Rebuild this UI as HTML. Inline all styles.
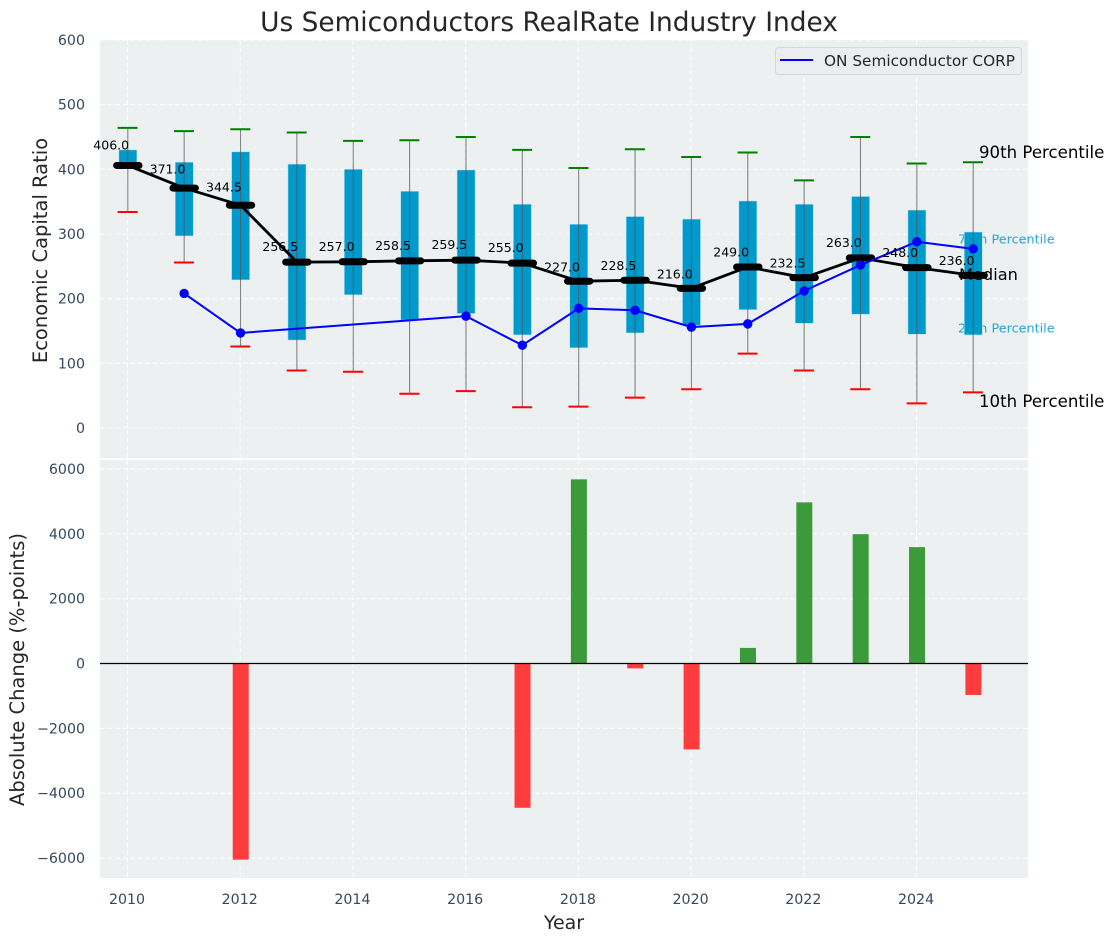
<!DOCTYPE html>
<html lang="en">
<head>
<meta charset="utf-8">
<title>Us Semiconductors RealRate Industry Index</title>
<style>
html,body{margin:0;padding:0;background:#fff;}
svg{display:block;font-family:"DejaVu Sans","Liberation Sans",sans-serif;}
</style>
</head>
<body>
<svg id="chart" xmlns="http://www.w3.org/2000/svg" width="1114" height="942" viewBox="0 0 1114 942"></svg>
<script>
const years = [2010,2011,2012,2013,2014,2015,2016,2017,2018,2019,2020,2021,2022,2023,2024,2025];
const p90 = [464,459,462,457,444,445,450,430,402,431,419,426,383,450,409,411];
const p75 = [430,411,427,408,400,366,399,346,315,327,323,351,346,358,337,303];
const medians = [406,371,344.5,256.5,257,258.5,259.5,255,227,228.5,216,249,232.5,263,248,236];
const p25 = [402,297,229,136,206,167,177,144,124,147,159,183,162,176,145,144];
const p10 = [334,256,126,89,87,53,57,32,33,47,60,115,89,60,38,55];
const companyYears = [2011,2012,2016,2017,2018,2019,2020,2021,2022,2023,2024,2025];
const companyValues = [208,147,173,128,185,182,156,161,212,252,288,277];
const changeYears = [2012,2017,2018,2019,2020,2021,2022,2023,2024,2025];
const changeValues = [-6050,-4450,5680,-150,-2650,480,4970,3990,3590,-970];
const xTicks = [2010,2012,2014,2016,2018,2020,2022,2024];
const topTicks = [0,100,200,300,400,500,600];
const bottomTicks = [-6000,-4000,-2000,0,2000,4000,6000];

const svg = document.getElementById('chart');
const NS = 'http://www.w3.org/2000/svg';
const LEFT = 100, RIGHT = 1028;
const TOP_Y0 = 40, TOP_Y1 = 458, BOT_Y0 = 460, BOT_Y1 = 878;
const xs = y => 127.8 + (y - 2010) * 56.36;
const yTop = v => 428 - v * 0.6467;
const yBot = v => 663.5 - v * 0.03242;

function make(tag, attrs, text) {
  const el = document.createElementNS(NS, tag);
  for (const k in attrs) el.setAttribute(k, attrs[k]);
  if (text !== undefined) el.textContent = text;
  svg.appendChild(el);
  return el;
}
const tickFmt = v => (v < 0 ? '\u2212' + Math.abs(v) : String(v));
let el;

// axes backgrounds
el = make('rect', {x: LEFT, y: TOP_Y0, width: RIGHT - LEFT, height: TOP_Y1 - TOP_Y0, fill: '#ecf0f1'});


el = make('rect', {x: LEFT, y: BOT_Y0, width: RIGHT - LEFT, height: BOT_Y1 - BOT_Y0, fill: '#ecf0f1'});



// grid
const gridStyle = {stroke: '#fff', 'stroke-width': 1.1, 'stroke-dasharray': '5 2.5', opacity: 0.85};
xTicks.forEach(t => {
  el = make('line', Object.assign({x1: xs(t) - 0.3, x2: xs(t) - 0.3, y1: TOP_Y0, y2: TOP_Y1}, gridStyle));
  
  
  el = make('line', Object.assign({x1: xs(t) - 0.3, x2: xs(t) - 0.3, y1: BOT_Y0, y2: BOT_Y1}, gridStyle));
  
  
});
topTicks.forEach(t => {
  el = make('line', Object.assign({x1: LEFT, x2: RIGHT, y1: yTop(t), y2: yTop(t)}, gridStyle));
  
  
  el = make('text', {x: 85, y: yTop(t) + 5, 'text-anchor': 'end', 'font-size': 14.2, fill: '#34495e'}, tickFmt(t));
  
  
});
bottomTicks.forEach(t => {
  el = make('line', Object.assign({x1: LEFT, x2: RIGHT, y1: yBot(t), y2: yBot(t)}, gridStyle));
  
  
  el = make('text', {x: 85, y: yBot(t) + 5, 'text-anchor': 'end', 'font-size': 14.2, fill: '#34495e'}, tickFmt(t));
  
  
});
xTicks.forEach(t => {
  el = make('text', {x: xs(t) - 0.8, y: 904, 'text-anchor': 'middle', 'font-size': 14.2, fill: '#34495e'}, String(t));
  
  
});

// percentile annotations drawn under the boxes
el = make('text', {x: 958, y: 243.5, 'font-size': 12.8, fill: '#0099cc', opacity: 0.85}, '75th Percentile');


el = make('text', {x: 958, y: 332.5, 'font-size': 12.8, fill: '#0099cc', opacity: 0.85}, '25th Percentile');



// boxes, whiskers and caps
years.forEach((y, i) => {
  const cx = xs(y);
  el = make('rect', {x: cx - 8.9, y: yTop(p75[i]), width: 18, height: yTop(p25[i]) - yTop(p75[i]), fill: '#0099cc', stroke: '#b3e0f0', 'stroke-width': 0.5});
  
  
  el = make('line', {x1: cx, x2: cx, y1: yTop(p90[i]), y2: yTop(p10[i]), stroke: '#555', 'stroke-width': 1.1, opacity: 0.7});
  
  
  el = make('line', {x1: cx - 10.2, x2: cx + 9.8, y1: yTop(p90[i]), y2: yTop(p90[i]), stroke: 'green', 'stroke-width': 2});
  
  
  el = make('line', {x1: cx - 10.2, x2: cx + 9.8, y1: yTop(p10[i]), y2: yTop(p10[i]), stroke: 'red', 'stroke-width': 2});
  
  
});

// median line
el = make('polyline', {points: years.map((y, i) => xs(y) + ',' + yTop(medians[i])).join(' '), fill: 'none', stroke: '#000', 'stroke-width': 2.8});


years.forEach((y, i) => {
  el = make('line', {x1: xs(y) - 11.2, x2: xs(y) + 11.2, y1: yTop(medians[i]), y2: yTop(medians[i]), stroke: '#000', 'stroke-width': 7, 'stroke-linecap': 'round'});
  
  
});

// company series
el = make('polyline', {points: companyYears.map((y, i) => xs(y) + ',' + yTop(companyValues[i])).join(' '), fill: 'none', stroke: '#0000ff', 'stroke-width': 2});


companyYears.forEach((y, i) => {
  el = make('circle', {cx: xs(y), cy: yTop(companyValues[i]), r: 4.7, fill: '#0000ff'});
  
  
});

// median value labels
years.forEach((y, i) => {
  el = make('text', {x: xs(y) - 16.6, y: yTop(medians[i] * 1.05) - 2.6, 'text-anchor': 'middle', 'font-size': 12.5, fill: '#000'}, medians[i].toFixed(1));
  
  
});

// series annotations
el = make('text', {x: 979, y: 158, 'font-size': 16.6, fill: '#000'}, '90th Percentile');


el = make('text', {x: 959, y: 280, 'font-size': 16.2, fill: '#000'}, 'Median');


el = make('text', {x: 979, y: 407, 'font-size': 16.6, fill: '#000'}, '10th Percentile');



// change bars
changeYears.forEach((y, i) => {
  const v = changeValues[i];
  const top = Math.min(yBot(v), yBot(0));
  const h = Math.abs(yBot(v) - yBot(0));
  el = make('rect', {x: xs(y) - 7.8, y: top, width: 16, height: h, fill: v >= 0 ? '#3b9b3b' : '#ff3c3c'});
  
  
});
el = make('line', {x1: LEFT, x2: RIGHT, y1: yBot(0), y2: yBot(0), stroke: '#000', 'stroke-width': 1.3});



// legend
el = make('rect', {x: 775.5, y: 47.5, width: 246, height: 27, rx: 3, fill: '#ecedf1', stroke: '#d5d8dc', 'stroke-width': 1});


el = make('line', {x1: 780, x2: 813, y1: 60, y2: 60, stroke: '#0000ff', 'stroke-width': 2});


el = make('text', {x: 824, y: 66, 'font-size': 15.3, fill: '#262626'}, 'ON Semiconductor CORP');



// titles
el = make('text', {x: 549, y: 31, 'text-anchor': 'middle', 'font-size': 26.4, fill: '#262626'}, 'Us Semiconductors RealRate Industry Index');


el = make('text', {x: 564, y: 929, 'text-anchor': 'middle', 'font-size': 19, fill: '#262626'}, 'Year');


el = make('text', {transform: 'translate(47,250.5) rotate(-90)', 'text-anchor': 'middle', 'font-size': 19.5, fill: '#262626'}, 'Economic Capital Ratio');


el = make('text', {transform: 'translate(24,669.5) rotate(-90)', 'text-anchor': 'middle', 'font-size': 19.5, fill: '#262626'}, 'Absolute Change (%-points)');


</script>
</body>
</html>
